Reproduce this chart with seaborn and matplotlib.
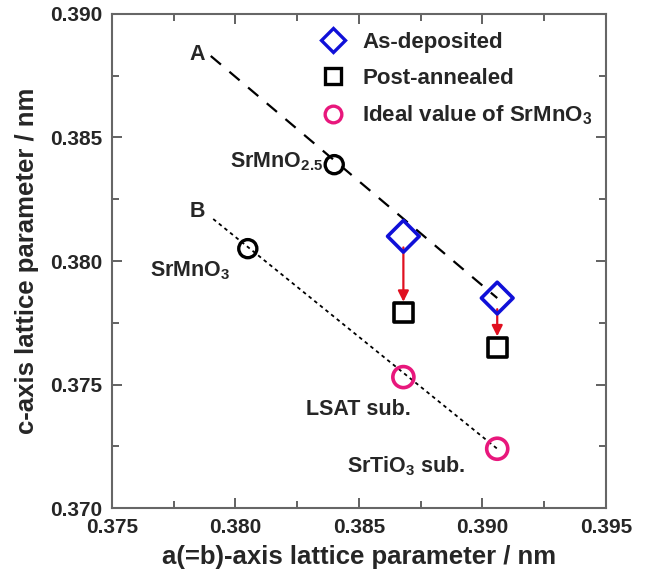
import numpy as np
import pandas as pd
import matplotlib
matplotlib.use("Agg")
import matplotlib.pyplot as plt
from matplotlib.lines import Line2D
from matplotlib.ticker import MultipleLocator
import seaborn as sns

# lattice parameters (nm)
as_dep_a = [0.3868, 0.3906]
as_dep_c = [0.3810, 0.3785]
annealed_a = [0.3868, 0.3906]
annealed_c = [0.3779, 0.3765]
ideal_a = [0.3868, 0.3906]
ideal_c = [0.3753, 0.3724]
ref_a = [0.3840, 0.3805]
ref_c = [0.3839, 0.3805]
ref_names = ["SrMnO$_{2.5}$", "SrMnO$_3$"]

line_a_x = [0.3790, 0.3906]
line_a_y = [0.3883, 0.3785]
line_b_x = [0.3791, 0.3906]
line_b_y = [0.3817, 0.3724]

sns.set_style("ticks")
plt.rcParams["font.family"] = ["Liberation Sans", "DejaVu Sans"]
plt.rcParams["font.weight"] = "bold"
plt.rcParams["mathtext.fontset"] = "custom"
plt.rcParams["mathtext.rm"] = "Liberation Sans:bold"
plt.rcParams["mathtext.bf"] = "Liberation Sans:bold"
plt.rcParams["mathtext.default"] = "bf"

BLUE = "#1010d8"
PINK = "#e8177c"
RED = "#e01020"

fig = plt.figure(figsize=(6.48, 5.73), dpi=100)
ax = fig.add_axes([0.1728, 0.1134, 0.935 - 0.1728, 0.9756 - 0.1134])

ax.plot(line_a_x, line_a_y, color="black", ls=(0, (6, 5)), lw=1.6, zorder=1)
ax.plot(line_b_x, line_b_y, color="black", ls=(0, (2, 2)), lw=1.3, zorder=1)

# arrows as-deposited -> post-annealed
for x, c0, c1 in zip(as_dep_a, as_dep_c, annealed_c):
    gap = 0.00045
    ax.annotate("", xy=(x, c1 + gap), xytext=(x, c0 - gap),
                arrowprops=dict(arrowstyle="-|>", color=RED, lw=1.6,
                                mutation_scale=16, shrinkA=0, shrinkB=0))

df_dep = pd.DataFrame({"a": as_dep_a, "c": as_dep_c})
df_ann = pd.DataFrame({"a": annealed_a, "c": annealed_c})
df_ide = pd.DataFrame({"a": ideal_a, "c": ideal_c})
df_ref = pd.DataFrame({"a": ref_a, "c": ref_c})

sns.scatterplot(data=df_dep, x="a", y="c", ax=ax, marker="D", s=260,
                facecolor="none", edgecolor=BLUE, linewidth=2.6, zorder=3)
sns.scatterplot(data=df_ann, x="a", y="c", ax=ax, marker="s", s=190,
                facecolor="none", edgecolor="black", linewidth=2.6, zorder=3)
sns.scatterplot(data=df_ide, x="a", y="c", ax=ax, marker="o", s=230,
                facecolor="none", edgecolor=PINK, linewidth=2.6, zorder=3)
sns.scatterplot(data=df_ref, x="a", y="c", ax=ax, marker="o", s=170,
                facecolor="none", edgecolor="black", linewidth=2.4, zorder=3)

fs = 15.5
ax.text(0.37845, 0.38835, "A", fontsize=fs, fontweight="bold", ha="center", va="center")
ax.text(0.37845, 0.3820, "B", fontsize=fs, fontweight="bold", ha="center", va="center")
ax.text(0.38355, 0.3840, ref_names[0], fontsize=fs, fontweight="bold", ha="right", va="center")
ax.text(0.37978, 0.3796, ref_names[1], fontsize=fs, fontweight="bold", ha="right", va="center")
ax.text(0.3850, 0.3740, "LSAT sub.", fontsize=fs, fontweight="bold", ha="center", va="center")
ax.text(0.3869, 0.3717, "SrTiO$_3$ sub.", fontsize=fs, fontweight="bold", ha="center", va="center")

ax.set_xlim(0.375, 0.395)
ax.set_ylim(0.370, 0.390)
ax.xaxis.set_major_locator(MultipleLocator(0.005))
ax.yaxis.set_major_locator(MultipleLocator(0.005))
ax.xaxis.set_minor_locator(MultipleLocator(0.0025))
ax.yaxis.set_minor_locator(MultipleLocator(0.0025))
ax.xaxis.set_major_formatter(matplotlib.ticker.FormatStrFormatter("%.3f"))
ax.yaxis.set_major_formatter(matplotlib.ticker.FormatStrFormatter("%.3f"))
ax.tick_params(which="both", direction="in", top=True, right=True, color="#555555", width=1.3)
ax.tick_params(which="major", length=7, labelsize=15, pad=7)
ax.tick_params(which="minor", length=5)
for lab in ax.get_xticklabels() + ax.get_yticklabels():
    lab.set_fontweight("bold")
for sp in ax.spines.values():
    sp.set_visible(True)
    sp.set_color("#666666")
    sp.set_linewidth(1.5)

ax.set_xlabel("a(=b)-axis lattice parameter / nm", fontsize=18.5, fontweight="bold", labelpad=6)
ax.set_ylabel("c-axis lattice parameter / nm", fontsize=18.5, fontweight="bold", labelpad=8)

handles = [
    Line2D([], [], ls="none", marker="D", ms=12, mfc="none", mec=BLUE, mew=2.4),
    Line2D([], [], ls="none", marker="s", ms=11, mfc="none", mec="black", mew=2.4),
    Line2D([], [], ls="none", marker="o", ms=12, mfc="none", mec=PINK, mew=2.4),
]
labels = ["As-deposited", "Post-annealed", "Ideal value of SrMnO$_3$"]
leg = ax.legend(handles, labels, loc="upper right", frameon=False, fontsize=16,
                handletextpad=0.3, labelspacing=0.66, borderaxespad=0.2,
                bbox_to_anchor=(1.0, 0.99))
for t in leg.get_texts():
    t.set_fontweight("bold")

fig.savefig("out.png", dpi=100)
